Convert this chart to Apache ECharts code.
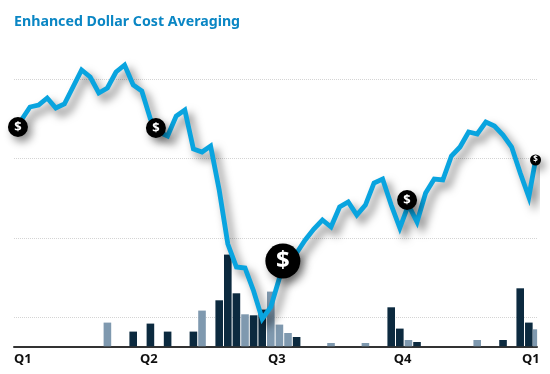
<!DOCTYPE html>
<html>
<head>
<meta charset="utf-8">
<style>html,body{margin:0;padding:0;background:#fff}#c{width:550px;height:374px}</style>
<script src="https://cdn.jsdelivr.net/npm/echarts@6/dist/echarts.min.js"></script>
</head>
<body>
<div id="c"></div>
<script>
const titleText = 'Enhanced Dollar Cost Averaging';
const lineValues = [197,210,212,219,209,213,230,247,240,224,229,245,252,232,226,198,185,181,201,207,168,165,171,127,73,50,49,26,-2,10,39,52,64,77,88,97,90,110,115,102,112,134,138,112,89,112,95,124,138,137,161,170,185,183,195,191,182,170,144,120,157];
const lineLastIndex = 59.78;
const barIndex = [10,13,15,17,20,21,23,24,25,26,27,28,29,30,31,32,36,40,43,44,45,46,53,56,58,59];
const barValues = [23.7,14.7,22.7,14.7,14.7,35.7,46,91.7,53,32,31,36.7,54.7,21.7,13.3,9.3,3.3,3.3,39,17.7,6.3,4.3,6.3,6.3,58,23.7];
const barShade  = ['L','D','D','D','D','L','D','D','D','L','D','D','L','L','L','D','L','L','D','D','L','D','L','D','D','D'];
const partialBarIndex = [59.72];
const partialBarValues = [17];
const markerIndex = [-0.4,15.64,30.4,44.84,59.78];
const markerValue = [190,189,56,117,157];
const markerSize  = [20,20,35,20,11];
const markerFont  = [13,13,24,13,8];
const quarterAt = [-0.86,13.79,28.67,43.3,58.2];
const quarterLabels = ['Q1','Q2','Q3','Q4','Q1'];

const DARK = '#0c2a3f', LIGHT = '#7f99af', BLUE = '#09a4df';
const xMin = -0.86, xMax = 59.95;
const chart = echarts.init(document.getElementById('c'), null, {renderer:'canvas'});
chart.setOption({
  animation:false,
  backgroundColor:'#fff',
  title:{text:titleText,left:14,top:15,padding:0,
    textStyle:{color:'#0a86c4',fontFamily:'Noto Sans',fontWeight:'bold',fontSize:14.2}},
  grid:[
    {left:14,width:523,top:0,height:317,containLabel:false},
    {left:14,width:523,top:0,height:346.3,containLabel:false}
  ],
  xAxis:[
    {gridIndex:0,type:'value',min:xMin,max:xMax,show:false,splitLine:{show:false}},
    {gridIndex:1,type:'value',min:xMin,max:xMax,splitLine:{show:false},
      axisLine:{show:true,onZero:false,lineStyle:{color:'#333',width:2}},
      axisTick:{show:false},
      axisLabel:{show:true,customValues:quarterAt,align:'left',margin:6,
        color:'#111',fontFamily:'Noto Sans',fontWeight:'bold',fontSize:13,
        formatter:function(v){return quarterLabels[quarterAt.indexOf(v)];}}},
    {gridIndex:1,type:'value',position:'top',min:xMin,max:xMax,show:false,splitLine:{show:false}}
  ],
  yAxis:[
    {gridIndex:0,type:'value',min:0,max:317,interval:79.25,
      axisLine:{show:false},axisTick:{show:false},axisLabel:{show:false},
      splitLine:{show:true,showMaxLine:false,lineStyle:{color:'#d4d4d4',type:'dotted',width:1}}},
    {gridIndex:1,type:'value',min:0,max:346.3,show:false,splitLine:{show:false}}
  ],
  series:[
    {type:'bar',xAxisIndex:1,yAxisIndex:1,barWidth:7.6,z:2,
      data:barIndex.map(function(x,k){return {value:[x,barValues[k]],itemStyle:{color:barShade[k]==='D'?DARK:LIGHT}};})},
    {type:'bar',xAxisIndex:2,yAxisIndex:1,barWidth:4.2,z:2,itemStyle:{color:LIGHT},
      data:partialBarIndex.map(function(x,k){return [x,partialBarValues[k]];})},
    {type:'line',xAxisIndex:0,yAxisIndex:0,z:3,clip:false,showSymbol:false,symbol:'none',smooth:false,
      lineStyle:{color:BLUE,width:4.8,join:'miter',cap:'butt',
        shadowColor:'rgba(0,0,0,0.5)',shadowBlur:9,shadowOffsetX:5,shadowOffsetY:6},
      data:lineValues.map(function(v,i){return [i===lineValues.length-1?lineLastIndex:i,v];})},
    {type:'scatter',xAxisIndex:0,yAxisIndex:0,z:4,clip:false,
      itemStyle:{color:'#000',opacity:1,shadowColor:'rgba(0,0,0,0.45)',shadowBlur:8,shadowOffsetX:4,shadowOffsetY:5},
      data:markerIndex.map(function(x,k){return {value:[x,markerValue[k]],symbolSize:markerSize[k],
        label:{show:true,position:'inside',formatter:'$',color:'#fff',fontFamily:'Noto Sans',fontWeight:'bold',fontSize:markerFont[k]}};})}
  ]
});
</script>
</body>
</html>
